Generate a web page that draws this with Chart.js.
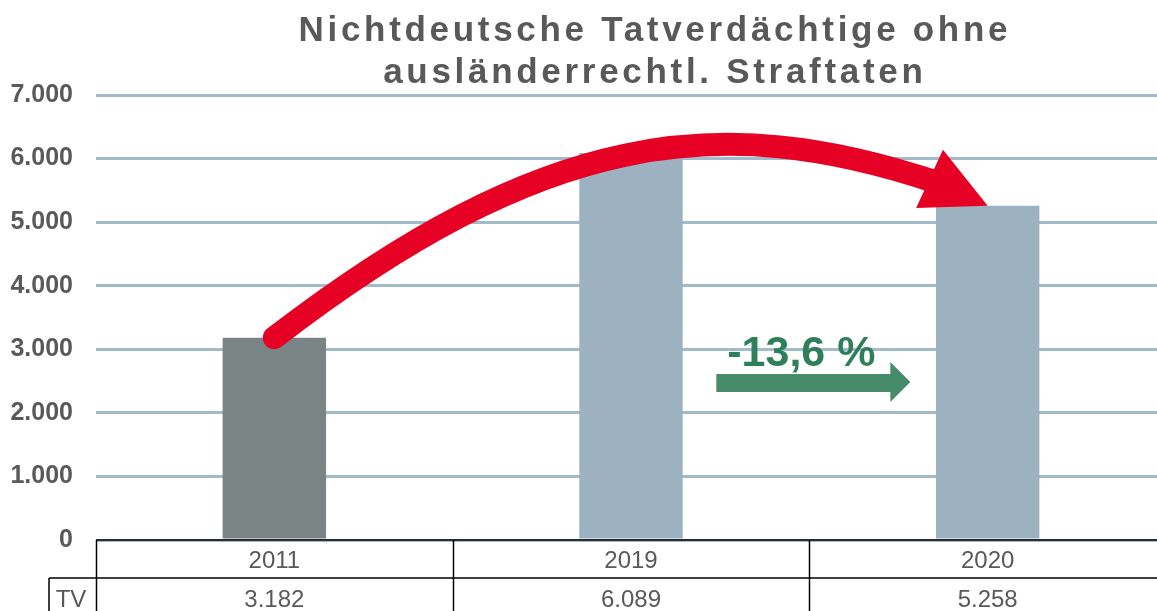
<!DOCTYPE html>
<html>
<head>
<meta charset="utf-8">
<script src="https://cdn.jsdelivr.net/npm/chart.js@4.4.1/dist/chart.umd.min.js"></script>
<style>
  html, body { margin: 0; padding: 0; background: #ffffff; overflow: hidden; }
  #wrap { width: 1166px; height: 611px; }
</style>
</head>
<body>
<div id="wrap"><canvas id="c" width="1166" height="611"></canvas></div>
<script>
// ---- data ----
const titleLines = ["Nichtdeutsche Tatverdächtige ohne", "ausländerrechtl. Straftaten"];
const categories = ["2011", "2019", "2020"];
const tvValues = [3182, 6089, 5258];
const barColors = ["#7a8485", "#9db2c0", "#9db2c0"];
const rowLabel = "TV";
const changeLabel = "-13,6 %";
const yTicks = [0, 1000, 2000, 3000, 4000, 5000, 6000, 7000];

const FONT = '"Liberation Sans", Arial, sans-serif';
const GREY = '#595959';

function fmt(v) {
  return v.toLocaleString('de-DE');
}

const overlay = {
  id: 'overlay',
  afterDatasetsDraw(chart) {
    const ctx = chart.ctx;
    const x = chart.scales.x, y = chart.scales.y;
    // red curved arrow from first bar top to last bar top
    const S = { x: x.getPixelForValue(0), y: y.getPixelForValue(tvValues[0]) };
    const T = { x: x.getPixelForValue(2), y: y.getPixelForValue(tvValues[2]) };
    const d = { x: 0.908, y: 0.419 };
    const headLen = 64, headHalf = 32;
    const E = { x: T.x - (headLen - 8) * d.x, y: T.y - (headLen - 8) * d.y };
    const C1 = { x: S.x + 269, y: S.y - 207 };
    const C2 = { x: T.x - 268, y: T.y - 96 };
    ctx.save();
    ctx.strokeStyle = '#e60023';
    ctx.lineWidth = 23;
    ctx.lineCap = 'round';
    ctx.beginPath();
    ctx.moveTo(S.x, S.y);
    ctx.bezierCurveTo(C1.x, C1.y, C2.x, C2.y, E.x, E.y);
    ctx.stroke();
    // arrow head
    const B = { x: T.x - headLen * d.x, y: T.y - headLen * d.y };
    const n = { x: d.y, y: -d.x };
    ctx.fillStyle = '#e60023';
    ctx.beginPath();
    ctx.moveTo(T.x, T.y);
    ctx.lineTo(B.x + n.x * headHalf, B.y + n.y * headHalf);
    ctx.lineTo(B.x - n.x * headHalf, B.y - n.y * headHalf);
    ctx.closePath();
    ctx.fill();
    ctx.restore();
  },
  afterDraw(chart) {
    const ctx = chart.ctx;
    const x = chart.scales.x, y = chart.scales.y;
    const area = chart.chartArea;
    ctx.save();

    // title
    ctx.fillStyle = GREY;
    ctx.font = 'bold 35px ' + FONT;
    ctx.textBaseline = 'alphabetic';
    ctx.textAlign = 'left';
    const sp = 3.7;
    ctx.letterSpacing = sp + 'px';
    const cx = 653;
    [41, 83].forEach((by, i) => {
      const w = ctx.measureText(titleLines[i]).width - sp;
      ctx.fillText(titleLines[i], cx - w / 2, by);
    });
    ctx.letterSpacing = '0px';

    // data table
    const top = area.bottom;
    const rowH = 38;
    const catW = (area.right - area.left) / categories.length;
    ctx.strokeStyle = '#000000';
    ctx.lineWidth = 1.5;
    ctx.beginPath();
    ctx.moveTo(area.left, top); ctx.lineTo(chart.width, top);
    ctx.moveTo(49, top + rowH); ctx.lineTo(chart.width, top + rowH);
    ctx.moveTo(49, top + rowH); ctx.lineTo(49, chart.height);
    for (let i = 0; i <= categories.length; i++) {
      const lx = Math.round(area.left + i * catW) + 0.5;
      ctx.moveTo(lx, top); ctx.lineTo(lx, chart.height);
    }
    ctx.stroke();

    ctx.fillStyle = GREY;
    ctx.font = '24px ' + FONT;
    ctx.textAlign = 'center';
    categories.forEach((c, i) => {
      const px = x.getPixelForValue(i);
      ctx.fillText(c, px, top + 28);
      ctx.fillText(fmt(tvValues[i]), px, top + 67);
    });
    ctx.fillText(rowLabel, 71, top + 67);

    // green change arrow between 2019 and 2020
    const gx0 = (x.getPixelForValue(1) + x.getPixelForValue(2)) / 2 - 93;
    const gy = y.getPixelForValue(2500);
    ctx.fillStyle = '#468c6a';
    ctx.beginPath();
    ctx.moveTo(gx0, gy - 7);
    ctx.lineTo(gx0 + 174, gy - 7);
    ctx.lineTo(gx0 + 174, gy - 19);
    ctx.lineTo(gx0 + 194, gy + 1);
    ctx.lineTo(gx0 + 174, gy + 21);
    ctx.lineTo(gx0 + 174, gy + 11);
    ctx.lineTo(gx0, gy + 11);
    ctx.closePath();
    ctx.fill();
    ctx.fillStyle = '#2f7f5a';
    ctx.font = 'bold 43px ' + FONT;
    ctx.textAlign = 'center';
    ctx.fillText(changeLabel, gx0 + 85, gy - 15);

    ctx.restore();
  }
};

new Chart(document.getElementById('c'), {
  type: 'bar',
  data: {
    labels: categories,
    datasets: [{
      label: rowLabel,
      data: tvValues,
      backgroundColor: barColors,
      borderWidth: 0,
      barPercentage: 0.29,
      categoryPercentage: 1.0
    }]
  },
  options: {
    responsive: false,
    animation: false,
    devicePixelRatio: 1,
    layout: { padding: { top: 95, bottom: 71, left: 0, right: 0 } },
    plugins: {
      legend: { display: false },
      title: { display: false },
      tooltip: { enabled: false }
    },
    scales: {
      x: { display: false },
      y: {
        min: 0,
        max: 7000,
        afterBuildTicks(scale) { scale.ticks = yTicks.map(v => ({ value: v })); },
        afterFit(scale) { scale.width = 96; },
        border: { display: false },
        grid: { color: '#a2bbca', lineWidth: 3, drawTicks: false },
        ticks: {
          padding: 23,
          color: GREY,
          font: { family: FONT, size: 25, weight: 'bold' },
          callback: (v) => fmt(v)
        }
      }
    }
  },
  plugins: [overlay]
});
</script>
</body>
</html>
